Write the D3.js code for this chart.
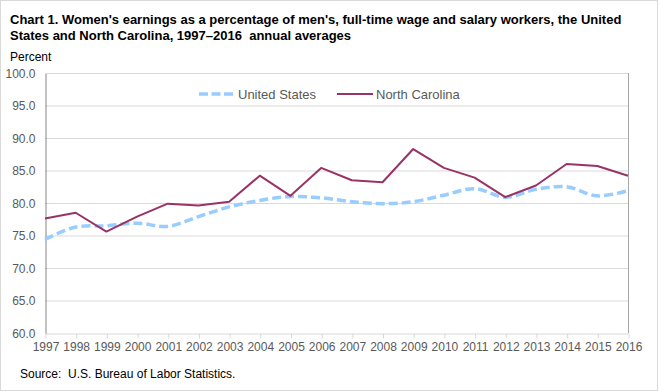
<!DOCTYPE html>
<html>
<head>
<meta charset="utf-8">
<script src="https://cdn.jsdelivr.net/npm/d3@7"></script>
<style>
  html, body { margin: 0; padding: 0; background: #fff; }
  svg { display: block; font-family: "Liberation Sans", Arial, sans-serif; }
  text { white-space: pre; }
</style>
</head>
<body>
<svg id="chart" width="659" height="392"></svg>
<script>
const years = [1997,1998,1999,2000,2001,2002,2003,2004,2005,2006,2007,2008,2009,2010,2011,2012,2013,2014,2015,2016];
const unitedStates = [74.4,76.3,76.5,76.9,76.4,77.9,79.4,80.4,81.0,80.8,80.2,79.9,80.2,81.2,82.2,80.9,82.1,82.5,81.1,81.9];
const northCarolina = [77.6,78.5,75.6,77.9,79.9,79.6,80.2,84.2,81.1,85.4,83.5,83.2,88.3,85.4,83.9,80.9,82.7,86.0,85.7,84.2];
const yTicks = [60,65,70,75,80,85,90,95,100];
const titleLines = ["Chart 1. Women's earnings as a percentage of men's, full-time wage and salary workers, the United",
                    "States and North Carolina, 1997\u20132016  annual averages"];
const seriesNames = ["United States", "North Carolina"];

const svg = d3.select("#chart");
const W = 659, H = 392;
const m = {left: 45, right: 628, top: 73, bottom: 333};

// outer border
svg.append("rect").attr("x", 0.5).attr("y", 0.5).attr("width", W - 2).attr("height", H - 2)
  .attr("fill", "#fff").attr("stroke", "#d9d9d9");

// title
svg.append("g").selectAll("text").data(titleLines).join("text")
  .attr("x", 10).attr("y", (d, i) => 24 + i * 16)
  .attr("font-size", 13).attr("font-weight", "bold").attr("fill", "#000")
  .attr("xml:space", "preserve")
  .text(d => d);

svg.append("text").attr("x", 10).attr("y", 61).attr("font-size", 12).attr("fill", "#000").text("Percent");

const x = d3.scalePoint().domain(years).range([m.left, m.right]);
const y = d3.scaleLinear().domain([60, 100]).range([m.bottom, m.top]);

// gridlines
svg.append("g").selectAll("line").data(yTicks.filter(t => t > 60)).join("line")
  .attr("x1", m.left).attr("x2", m.right)
  .attr("y1", d => y(d) + 0.5).attr("y2", d => y(d) + 0.5)
  .attr("stroke", "#d9d9d9").attr("stroke-width", 1);

// right border of plot
svg.append("line").attr("x1", m.right + 0.5).attr("x2", m.right + 0.5)
  .attr("y1", m.top).attr("y2", m.bottom).attr("stroke", "#a6a6a6");

// y axis
const yAxis = d3.axisLeft(y).tickValues(yTicks).tickFormat(d3.format(".1f")).tickSize(0).tickPadding(10);
const gy = svg.append("g").attr("transform", `translate(${m.left + 0.5},0.5)`).call(yAxis);
gy.select(".domain").attr("stroke", "#868686");
gy.selectAll("text").attr("font-size", 12).attr("fill", "#595959")
  .attr("font-family", "'Liberation Sans', Arial, sans-serif");

// x axis
const xAxis = d3.axisBottom(x).tickSize(5).tickPadding(4).tickSizeOuter(0);
const gx = svg.append("g").attr("transform", `translate(0.5,${m.bottom + 0.5})`).call(xAxis);
gx.select(".domain").attr("stroke", "#d9d9d9");
gx.selectAll(".tick line").attr("stroke", "#d9d9d9");
gx.selectAll("text").attr("font-size", 12).attr("fill", "#595959")
  .attr("font-family", "'Liberation Sans', Arial, sans-serif");

// lines
const usLine = d3.line().x((d, i) => x(years[i])).y(d => y(d)).curve(d3.curveCatmullRom.alpha(0.5));
const ncLine = d3.line().x((d, i) => x(years[i])).y(d => y(d));

svg.append("path").datum(unitedStates).attr("d", usLine)
  .attr("fill", "none").attr("stroke", "#99ccff").attr("stroke-width", 3.5)
  .attr("stroke-dasharray", "9,4");
svg.append("path").datum(northCarolina).attr("d", ncLine)
  .attr("fill", "none").attr("stroke", "#993366").attr("stroke-width", 2)
  .attr("stroke-linejoin", "round");

// legend
const legend = svg.append("g");
const legendItems = [
  {name: seriesNames[0], x1: 199, x2: 233, tx: 238, color: "#99ccff", w: 3.5, dash: "9,3.5"},
  {name: seriesNames[1], x1: 337, x2: 373, tx: 376, color: "#993366", w: 2, dash: null}
];
legendItems.forEach(it => {
  legend.append("line").attr("x1", it.x1).attr("x2", it.x2).attr("y1", 94).attr("y2", 94)
    .attr("stroke", it.color).attr("stroke-width", it.w).attr("stroke-dasharray", it.dash);
  legend.append("text").attr("x", it.tx).attr("y", 99).attr("font-size", 13).attr("fill", "#595959").text(it.name);
});

// source
svg.append("text").attr("x", 20).attr("y", 378).attr("font-size", 12).attr("fill", "#000")
  .attr("xml:space", "preserve")
  .text("Source:  U.S. Bureau of Labor Statistics.");
</script>
</body>
</html>
